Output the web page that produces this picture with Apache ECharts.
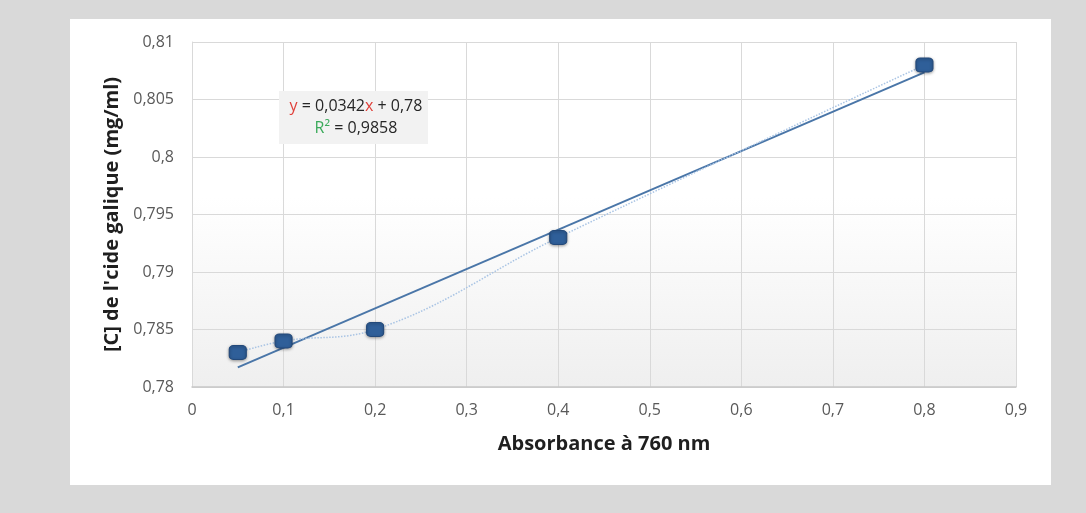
<!DOCTYPE html>
<html><head><meta charset="utf-8">
<script src="https://cdn.jsdelivr.net/npm/echarts@6/dist/echarts.min.js"></script>
<style>html,body{margin:0;padding:0;background:#d9d9d9}#c{width:1086px;height:513px}</style>
</head><body><div id="c"></div>
<script>
const absorbance = [0.05, 0.1, 0.2, 0.4, 0.8];
const concentration = [0.783, 0.784, 0.785, 0.793, 0.808];
const trendSlope = 0.0342;
const trendIntercept = 0.78;
const equationRich = '{r|y} = 0,0342{r|x} + 0,78';
const r2Rich = '{g|R²} = 0,9858';
const xTitle = 'Absorbance à 760 nm';
const yTitle = "[C] de l'cide galique (mg/ml)";

const fmt = v => String(+v.toFixed(3)).replace('.', ',');
const pts = absorbance.map((x, i) => [x, concentration[i]]);
const xMin = Math.min(...absorbance), xMax = Math.max(...absorbance);
const trend = [[xMin, trendIntercept + trendSlope * xMin], [xMax, trendIntercept + trendSlope * xMax]];

const chart = echarts.init(document.getElementById('c'));
chart.setOption({
  backgroundColor: '#d9d9d9',
  animation: false,
  graphic: [
    { type: 'rect', z: -10, shape: { x: 70, y: 19, width: 981, height: 466 }, style: { fill: '#ffffff' } },
    { type: 'rect', z: 5, shape: { x: 279, y: 91, width: 149, height: 53 }, style: { fill: '#f2f2f2' } },
    { type: 'text', z: 6, x: 356, y: 106, style: {
        text: equationRich, fontFamily: 'Open Sans', fontSize: 16, fill: '#262626', align: 'center', verticalAlign: 'middle',
        rich: { r: { fill: '#e0403a', fontFamily: 'Open Sans', fontSize: 16 } } } },
    { type: 'text', z: 6, x: 356, y: 128, style: {
        text: r2Rich, fontFamily: 'Open Sans', fontSize: 16, fill: '#262626', align: 'center', verticalAlign: 'middle',
        rich: { g: { fill: '#3aaa5a', fontFamily: 'Open Sans', fontSize: 16 } } } }
  ],
  grid: {
    left: 192, right: 70, top: 42, bottom: 126, show: true, borderWidth: 0,
    backgroundColor: new echarts.graphic.LinearGradient(0, 0, 0, 1, [
      { offset: 0, color: '#ffffff' }, { offset: 0.45, color: '#ffffff' }, { offset: 1, color: '#efefef' }
    ])
  },
  xAxis: {
    type: 'value', min: 0, max: 0.9, interval: 0.1,
    name: xTitle, nameLocation: 'middle', nameGap: 47,
    nameTextStyle: { fontFamily: 'Open Sans', fontWeight: 'bold', fontSize: 20, color: '#1f1f1f' },
    axisLine: { show: true, lineStyle: { color: '#c8c8c8', width: 1.5 } },
    axisTick: { show: false },
    axisLabel: { formatter: fmt, color: '#595959', fontFamily: 'Open Sans', fontSize: 16, margin: 15 },
    splitLine: { show: true, lineStyle: { color: '#d9d9d9' } }
  },
  yAxis: {
    type: 'value', min: 0.78, max: 0.81, interval: 0.005,
    name: yTitle, nameLocation: 'middle', nameGap: 69, nameRotate: 90,
    nameTextStyle: { fontFamily: 'Open Sans', fontWeight: 'bold', fontSize: 20, color: '#1f1f1f' },
    axisLine: { show: true, lineStyle: { color: '#d9d9d9' } },
    axisTick: { show: false },
    axisLabel: { formatter: fmt, color: '#595959', fontFamily: 'Open Sans', fontSize: 16, margin: 18 },
    splitLine: { show: true, lineStyle: { color: '#d9d9d9' } }
  },
  series: [
    {
      type: 'line', data: trend, symbol: 'none', z: 3,
      lineStyle: { color: '#4a76a8', width: 2 }
    },
    {
      type: 'line', data: pts, smooth: 0.4, z: 4,
      symbol: 'roundRect', symbolSize: [17, 14],
      lineStyle: { color: '#a9c4e4', width: 1.5, type: 'dotted' },
      itemStyle: { color: '#2f5f99', borderColor: '#23497a', borderWidth: 1, shadowBlur: 3, shadowColor: 'rgba(0,0,0,0.35)', shadowOffsetY: 1 }
    }
  ]
});
</script></body></html>
